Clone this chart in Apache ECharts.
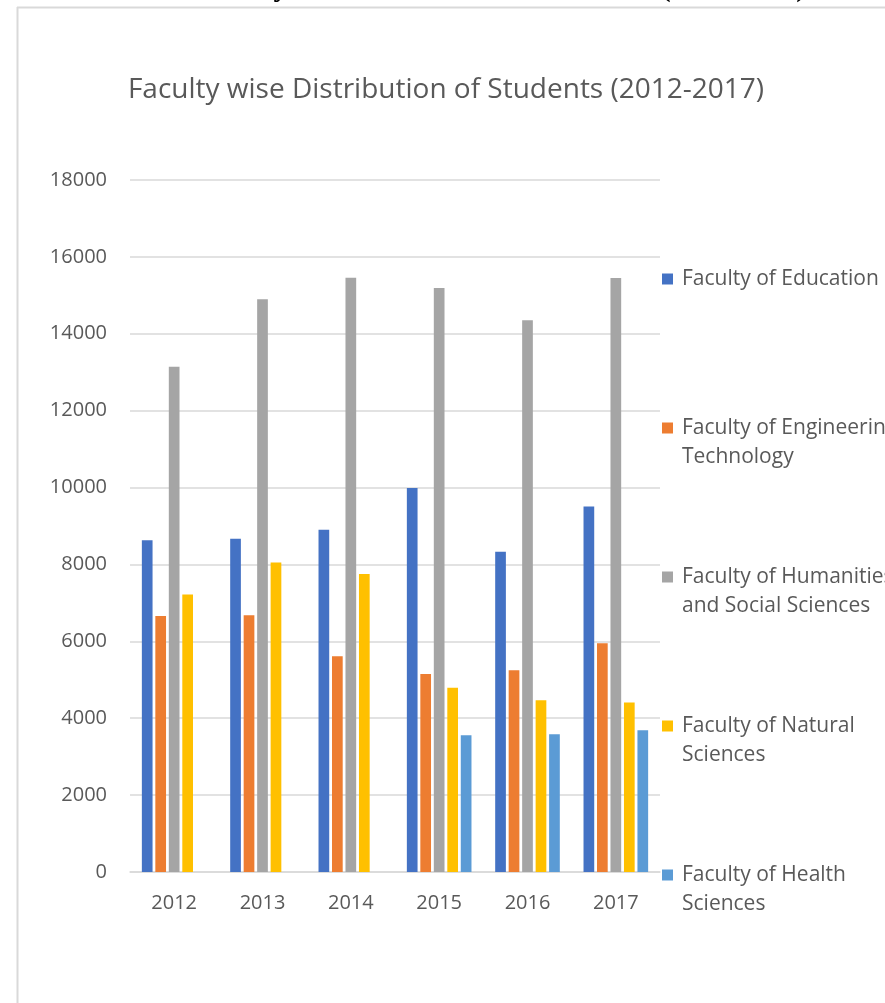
<!DOCTYPE html>
<html>
<head>
<meta charset="utf-8">
<script src="https://cdn.jsdelivr.net/npm/echarts@6/dist/echarts.min.js"></script>
<style>html,body{margin:0;padding:0;background:#fff;}#chart{width:885px;height:1003px;}</style>
</head>
<body>
<div id="chart"></div>
<script>
var years = ['2012', '2013', '2014', '2015', '2016', '2017'];
var education = [8630, 8670, 8900, 9990, 8330, 9510];
var engineering = [6660, 6680, 5610, 5150, 5250, 5950];
var humanities = [13140, 14900, 15460, 15190, 14350, 15450];
var natural = [7220, 8050, 7750, 4790, 4470, 4410];
var health = [null, null, null, 3560, 3580, 3690];
var yTicks = [0, 2000, 4000, 6000, 8000, 10000, 12000, 14000, 16000, 18000];
var titleText = 'Faculty wise Distribution of Students (2012-2017)';
var seriesNames = ['Faculty of Education', 'Faculty of Engineering Technology', 'Faculty of Humanities and Social Sciences', 'Faculty of Natural Sciences', 'Faculty of Health Sciences'];
var legendLine1 = ['Faculty of Education', 'Faculty of Engineering', 'Faculty of Humanities', 'Faculty of Natural', 'Faculty of Health'];
var legendLine2 = ['', 'Technology', 'and Social Sciences', 'Sciences', 'Sciences'];
var colors = ['#4472C4', '#ED7D31', '#A5A5A5', '#FFC000', '#5B9BD5'];
var seriesData = [education, engineering, humanities, natural, health];

var FONT = '"Open Sans"';
var TXT = '#595959';
var legendTops = [279, 428, 577, 726, 875];

var chart = echarts.init(document.getElementById('chart'), null, {renderer: 'canvas'});

var legends = seriesNames.map(function (n, i) {
  return {
    data: [n],
    left: 662,
    top: legendTops[i] - 10.5,
    padding: 0,
    itemWidth: 11,
    itemHeight: 11,
    icon: 'rect',
    itemGap: 0,
    selectedMode: false,
    formatter: function () { return legendLine1[i]; },
    textStyle: {color: TXT, fontFamily: FONT, fontSize: 21, padding: [0, 0, 0, 4], lineHeight: 21}
  };
});

var graphics = [
  {type: 'line', shape: {x1: 17, y1: 7.5, x2: 885, y2: 7.5}, style: {stroke: '#d9d9d9', lineWidth: 2}},
  {type: 'line', shape: {x1: 17.5, y1: 7, x2: 17.5, y2: 1003}, style: {stroke: '#d9d9d9', lineWidth: 2}},
  {type: 'text', x: 806, y: 3, style: {text: titleText, font: 'bold 29px "Liberation Serif"', fill: '#000', textAlign: 'right', textVerticalAlign: 'bottom'}}
];
legendLine2.forEach(function (t, i) {
  if (t) {
    graphics.push({type: 'text', x: 682, y: legendTops[i] + 29.5, style: {text: t, fill: TXT, font: '21px ' + FONT, textAlign: 'left', textVerticalAlign: 'middle'}});
  }
});

var option = {
  animation: false,
  backgroundColor: '#fff',
  color: colors,
  title: {
    text: titleText,
    left: 441,
    top: 71,
    textAlign: 'center',
    textStyle: {color: TXT, fontFamily: FONT, fontSize: 28, fontWeight: 'normal'}
  },
  legend: legends,
  grid: {left: 130, right: 225, top: 180, bottom: 131, containLabel: false},
  xAxis: {
    type: 'category',
    data: years,
    axisLine: {lineStyle: {color: '#d9d9d9', width: 1.5}},
    axisTick: {show: false},
    axisLabel: {color: TXT, fontFamily: FONT, fontSize: 20, margin: 21}
  },
  yAxis: {
    type: 'value',
    min: yTicks[0],
    max: yTicks[yTicks.length - 1],
    interval: yTicks[1] - yTicks[0],
    axisLine: {show: false},
    axisTick: {show: false},
    splitLine: {lineStyle: {color: '#d9d9d9', width: 1.5}},
    axisLabel: {color: TXT, fontFamily: FONT, fontSize: 20, margin: 23, formatter: function (v) { return String(v); }}
  },
  graphic: graphics,
  series: seriesNames.map(function (n, i) {
    return {
      name: n,
      type: 'bar',
      data: seriesData[i],
      barWidth: 10.7,
      barGap: '26%',
      itemStyle: {color: colors[i]}
    };
  })
};
chart.setOption(option);
</script>
</body>
</html>
